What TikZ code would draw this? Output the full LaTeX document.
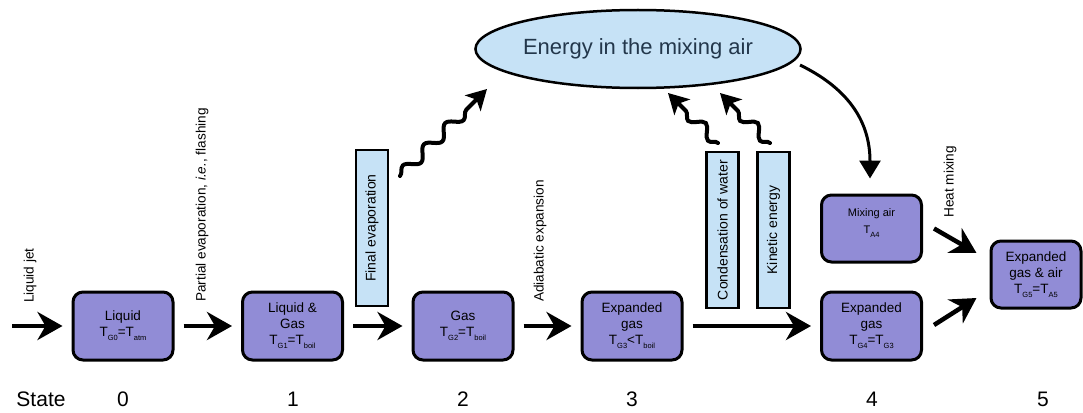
\documentclass[tikz,border=0pt]{standalone}
\usepackage{fontspec}
\setmainfont{Liberation Sans}
\usetikzlibrary{arrows.meta,shapes.geometric,decorations.pathmorphing,calc}
\definecolor{boxfill}{RGB}{145,140,214}
\definecolor{lblue}{RGB}{198,226,246}
\definecolor{etext}{RGB}{35,55,75}
\newcommand\sbs[1]{\raisebox{-0.55ex}{\fontsize{7.5}{8}\selectfont #1}}
\begin{document}
\begin{tikzpicture}[x=1pt,y=-1pt,
  statebox/.style={draw, line width=3pt, rounded corners=10pt, fill=boxfill,
    minimum width=100pt, minimum height=68pt, align=center, inner sep=0pt,
    font=\fontsize{13.5}{16}\selectfont},
  lbox/.style={draw, line width=2.5pt, fill=lblue, rotate=90,
    minimum width=156pt, minimum height=32pt, inner sep=0pt,
    font=\fontsize{14}{16}\selectfont},
  lab/.style={rotate=90, anchor=west, inner sep=0pt, font=\fontsize{13.6}{16}\selectfont},
  st/.style={font=\fontsize{21}{24}\selectfont},
  flow/.style={line width=4.5pt, -{Stealth[length=25pt,width=28pt,inset=8pt]},
    shorten <=9pt, shorten >=9pt},
  diag/.style={line width=4.5pt, -{Stealth[length=25pt,width=28pt,inset=8pt]}},
  wavy/.style={line width=4pt, line cap=round, -{Stealth[length=20pt,width=22pt,inset=5pt]},
    decorate, decoration={snake, amplitude=5.5pt, segment length=30pt, post length=22pt}},
  curvy/.style={line width=3pt, -{Triangle[length=18pt,width=21pt]}}
]
\useasboundingbox (0,0) rectangle (1083,412);

% energy ellipse
\node[draw, line width=2.5pt, fill=lblue, ellipse, minimum width=322pt, minimum height=78pt,
  inner sep=0pt, text=etext, font=\fontsize{22}{26}\selectfont] (en) at (638,49) {Energy in the mixing air};

% state boxes
\node[statebox] (b0) at (123,326) {Liquid\\T\sbs{G0}=T\sbs{atm}};
\node[statebox] (b1) at (292.5,326) {Liquid \&\\Gas\\T\sbs{G1}=T\sbs{boil}};
\node[statebox] (b2) at (463,326) {Gas\\T\sbs{G2}=T\sbs{boil}};
\node[statebox] (b3) at (632,326) {Expanded\\gas\\T\sbs{G3}<T\sbs{boil}};
\node[statebox] (b4) at (871.5,326) {Expanded\\gas\\T\sbs{G4}=T\sbs{G3}};
\node[statebox, minimum height=67pt] (ma) at (871.5,228.5) {};
\node[align=center, font=\fontsize{11}{17}\selectfont] (matext) at (871.5,223) {Mixing air\\T\sbs{A4}};
\node[statebox, minimum width=90pt, minimum height=67pt] (b5) at (1036,274.5) {Expanded\\gas \& air\\T\sbs{G5}=T\sbs{A5}};

% light blue boxes
\node[lbox] (fe) at (372,228) {Final evaporation};
\node[lbox] (cw) at (722.5,230) {Condensation of water};
\node[lbox] (ke) at (773.5,230) {Kinetic energy};

% labels
\node[lab] (l0) at (30,303) {Liquid jet};
\node[lab] (l1) at (202,302) {Partial evaporation, \textit{i.e.}, flashing};
\node[lab] (l3) at (540,302) {Adiabatic expansion};
\node[lab] (l5) at (950,218) {Heat mixing};

% flow arrows
\coordinate (in0) at (3,326);
\draw[flow] (in0) -- (b0);
\draw[flow] (b0) -- (b1);
\draw[flow] (b1) -- (b2);
\draw[flow] (b2) -- (b3);
\draw[flow] (b3) -- (b4);
\draw[diag] ($(ma.east)+(11,0)$) -- ($(b5.west)+(-13,-21.5)$);
\draw[diag] ($(b4.east)+(11,-1)$) -- ($(b5.west)+(-13,23.5)$);

% wavy arrows
\draw[wavy] ($(fe.center)+(28,-52)$) -- ($(en.center)+(-151,40)$);
\draw[wavy, decoration={snake, amplitude=5.5pt, segment length=28pt, post length=20pt}]
  ($(cw.center)+(-4.5,-87)$) -- ($(en.center)+(30,44)$);
\draw[wavy, decoration={snake, amplitude=5.5pt, segment length=28pt, post length=20pt}]
  ($(ke.center)+(-3.5,-87)$) -- ($(en.center)+(82,44)$);

% curved arrow
\draw[curvy] ($(en.center)+(162,16)$) .. controls +(45,22) and +(0,-60) .. ($(ma.north)+(-1.5,-15)$);

% state row
\node[st] (stl) at (41,399) {State};
\node[st] (s0) at (123,399) {0};
\node[st] (s1) at (293,399) {1};
\node[st] (s2) at (463,399) {2};
\node[st] (s3) at (632,399) {3};
\node[st] (s4) at (872,399) {4};
\node[st] (s5) at (1043,399) {5};
\end{tikzpicture}
\end{document}
